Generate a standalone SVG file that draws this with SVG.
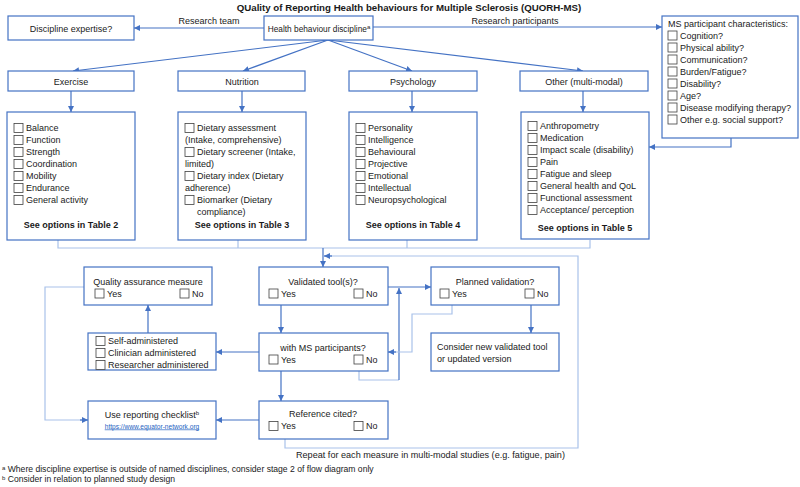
<svg xmlns="http://www.w3.org/2000/svg" xmlns:xlink="http://www.w3.org/1999/xlink" width="800" height="487" viewBox="0 0 800 487">
<defs>
<style>
text{font-family:"Liberation Sans",Arial,sans-serif;font-size:9px;fill:#1a1a1a}
.t{font-weight:bold;font-size:9.7px}
.b{font-weight:bold}
.c{text-anchor:middle}
.box{fill:#fff;stroke:#4472C4;stroke-width:1.2}
.cb{fill:#fff;stroke:#404040;stroke-width:0.8}
.dk{fill:none;stroke:#4472C4;stroke-width:1.2}
.lt{fill:none;stroke:#A9C2EA;stroke-width:1.2}
.fn{font-size:8.6px}
.lnk{font-size:6.6px;fill:#1F5FBF;text-decoration:underline}
.sup{font-size:6px}
</style>
<rect id="cb" width="9" height="9" class="cb"/>
<marker id="ar" viewBox="0 0 10 10" refX="10" refY="5" markerWidth="6" markerHeight="6" orient="auto" markerUnits="userSpaceOnUse">
<path d="M0,0 L10,5 L0,10 z" fill="#4472C4"/>
</marker>
</defs>
<rect width="800" height="487" fill="#fff"/>
<text class="t c" x="409" y="11">QUality of Reporting Health behaviours for Multiple Sclerosis (QUORH-MS)</text>

<g id="connectors">
<path class="dk" d="M264,28 H134" marker-end="url(#ar)"/>
<path class="dk" d="M373,27 H662" marker-end="url(#ar)"/>
<path class="dk" d="M328,40 L73,71" marker-end="url(#ar)"/>
<path class="dk" d="M328,40 L243,71" marker-end="url(#ar)"/>
<path class="dk" d="M328,40 L412,71" marker-end="url(#ar)"/>
<path class="dk" d="M328,40 L583,71" marker-end="url(#ar)"/>
<path class="dk" d="M71,91 V112" marker-end="url(#ar)"/>
<path class="dk" d="M242,91 V112" marker-end="url(#ar)"/>
<path class="dk" d="M412,91 V112" marker-end="url(#ar)"/>
<path class="dk" d="M583,91 V112" marker-end="url(#ar)"/>
<path class="dk" d="M731,138 V147 H649" marker-end="url(#ar)"/>
<path class="lt" d="M58,240 V248 H590 V240 M238,240 V248 M407,240 V248"/>
<path class="dk" d="M323,248 V267" marker-end="url(#ar)"/>
<path class="lt" d="M285,439 V448 H578 V256 H330"/>
<path class="dk" d="M332,256 H324" marker-end="url(#ar)"/>
<path class="dk" d="M388,287 H431" marker-end="url(#ar)"/>
<path class="lt" d="M359,371 V380 H399"/>
<path class="dk" d="M399,380 V288" marker-end="url(#ar)"/>
<path class="lt" d="M452,305 V314 H412 V352 H394"/>
<path class="dk" d="M396,352 H388" marker-end="url(#ar)"/>
<path class="dk" d="M531,305 V333" marker-end="url(#ar)"/>
<path class="dk" d="M281,305 V333" marker-end="url(#ar)"/>
<path class="dk" d="M259,352 H216" marker-end="url(#ar)"/>
<path class="dk" d="M148,333 V305" marker-end="url(#ar)"/>
<path class="lt" d="M84,287 H45 V420 H82"/>
<path class="dk" d="M80,420 H88" marker-end="url(#ar)"/>
<path class="dk" d="M281,371 V401" marker-end="url(#ar)"/>
<path class="dk" d="M259,420 H216" marker-end="url(#ar)"/>
</g>
<text x="209" y="24" class="c">Research team</text>
<text x="515" y="24" class="c">Research participants</text>

<g id="n-expertise"><rect class="box" x="8" y="16" width="126" height="24"/><text class="c" x="71" y="31.5">Discipline expertise?</text></g>
<g id="n-discipline"><rect class="box" x="264" y="16" width="109" height="24"/><text class="c" x="319" y="31.5" style="font-size:8.3px">Health behaviour discipline<tspan class="sup" dy="-3">a</tspan></text></g>

<g id="n-ms">
<rect class="box" x="662" y="16" width="136" height="122"/>
<text x="668" y="27">MS participant characteristics:</text>
<use href="#cb" x="668" y="31"/><text x="680" y="38.7">Cognition?</text>
<use href="#cb" x="668" y="43"/><text x="680" y="50.7">Physical ability?</text>
<use href="#cb" x="668" y="55"/><text x="680" y="62.7">Communication?</text>
<use href="#cb" x="668" y="67"/><text x="680" y="74.7">Burden/Fatigue?</text>
<use href="#cb" x="668" y="79"/><text x="680" y="86.7">Disability?</text>
<use href="#cb" x="668" y="91"/><text x="680" y="98.7">Age?</text>
<use href="#cb" x="668" y="103"/><text x="680" y="110.7">Disease modifying therapy?</text>
<use href="#cb" x="668" y="115"/><text x="680" y="122.7">Other e.g. social support?</text>
</g>

<g id="n-exercise"><rect class="box" x="8" y="71" width="126" height="20"/><text class="c" x="71" y="84.5">Exercise</text></g>
<g id="n-nutrition"><rect class="box" x="178" y="71" width="127" height="20"/><text class="c" x="242" y="84.5">Nutrition</text></g>
<g id="n-psychology"><rect class="box" x="349" y="71" width="128" height="20"/><text class="c" x="413" y="84.5">Psychology</text></g>
<g id="n-other"><rect class="box" x="520" y="71" width="128" height="20"/><text class="c" x="584" y="84.5">Other (multi-modal)</text></g>

<g id="d-exercise">
<rect class="box" x="7" y="112" width="128" height="128"/>
<use href="#cb" x="14" y="123.5"/><text x="26" y="131.2">Balance</text>
<use href="#cb" x="14" y="135.5"/><text x="26" y="143.2">Function</text>
<use href="#cb" x="14" y="147.5"/><text x="26" y="155.2">Strength</text>
<use href="#cb" x="14" y="159.5"/><text x="26" y="167.2">Coordination</text>
<use href="#cb" x="14" y="171.5"/><text x="26" y="179.2">Mobility</text>
<use href="#cb" x="14" y="183.5"/><text x="26" y="191.2">Endurance</text>
<use href="#cb" x="14" y="195.5"/><text x="26" y="203.2">General activity</text>
<text class="b c" x="71" y="227.5">See options in Table 2</text>
</g>
<g id="d-nutrition">
<rect class="box" x="178" y="112" width="128" height="128"/>
<use href="#cb" x="185" y="123.5"/><text x="197" y="131.2">Dietary assessment</text>
<text x="185" y="143.2">(Intake, comprehensive)</text>
<use href="#cb" x="185" y="147.5"/><text x="197" y="155.2">Dietary screener (Intake,</text>
<text x="185" y="167.2">limited)</text>
<use href="#cb" x="185" y="171.5"/><text x="197" y="179.2">Dietary index (Dietary</text>
<text x="185" y="191.2">adherence)</text>
<use href="#cb" x="185" y="195.5"/><text x="197" y="203.2">Biomarker (Dietary</text>
<text x="197" y="215.2">compliance)</text>
<text class="b c" x="242" y="227.5">See options in Table 3</text>
</g>
<g id="d-psychology">
<rect class="box" x="349" y="112" width="128" height="128"/>
<use href="#cb" x="356" y="123.5"/><text x="368" y="131.2">Personality</text>
<use href="#cb" x="356" y="135.5"/><text x="368" y="143.2">Intelligence</text>
<use href="#cb" x="356" y="147.5"/><text x="368" y="155.2">Behavioural</text>
<use href="#cb" x="356" y="159.5"/><text x="368" y="167.2">Projective</text>
<use href="#cb" x="356" y="171.5"/><text x="368" y="179.2">Emotional</text>
<use href="#cb" x="356" y="183.5"/><text x="368" y="191.2">Intellectual</text>
<use href="#cb" x="356" y="195.5"/><text x="368" y="203.2">Neuropsychological</text>
<text class="b c" x="413" y="227.5">See options in Table 4</text>
</g>
<g id="d-other">
<rect class="box" x="521" y="112" width="128" height="127"/>
<use href="#cb" x="528" y="121.5"/><text x="540" y="129.2">Anthropometry</text>
<use href="#cb" x="528" y="133.5"/><text x="540" y="141.2">Medication</text>
<use href="#cb" x="528" y="145.5"/><text x="540" y="153.2">Impact scale (disability)</text>
<use href="#cb" x="528" y="157.5"/><text x="540" y="165.2">Pain</text>
<use href="#cb" x="528" y="169.5"/><text x="540" y="177.2">Fatigue and sleep</text>
<use href="#cb" x="528" y="181.5"/><text x="540" y="189.2">General health and QoL</text>
<use href="#cb" x="528" y="193.5"/><text x="540" y="201.2">Functional assessment</text>
<use href="#cb" x="528" y="205.5"/><text x="540" y="213.2">Acceptance/ perception</text>
<text class="b c" x="585" y="230.5">See options in Table 5</text>
</g>

<g id="n-qa">
<rect class="box" x="84" y="267" width="128" height="38"/>
<text class="c" x="148" y="285">Quality assurance measure</text>
<use href="#cb" x="95" y="289"/><text x="107" y="296.5">Yes</text>
<use href="#cb" x="180" y="289"/><text x="192" y="296.5">No</text>
</g>
<g id="n-validated">
<rect class="box" x="259" y="267" width="129" height="38"/>
<text class="c" x="323" y="285">Validated tool(s)?</text>
<use href="#cb" x="269" y="289"/><text x="281" y="296.5">Yes</text>
<use href="#cb" x="354" y="289"/><text x="366" y="296.5">No</text>
</g>
<g id="n-planned">
<rect class="box" x="431" y="267" width="128" height="38"/>
<text class="c" x="495" y="285">Planned validation?</text>
<use href="#cb" x="440" y="289"/><text x="452" y="296.5">Yes</text>
<use href="#cb" x="525" y="289"/><text x="537" y="296.5">No</text>
</g>
<g id="n-consider">
<rect class="box" x="431" y="333" width="128" height="38"/>
<text x="437" y="350">Consider new validated tool</text>
<text x="437" y="362">or updated version</text>
</g>
<g id="n-withms">
<rect class="box" x="259" y="333" width="129" height="38"/>
<text class="c" x="323" y="351">with MS participants?</text>
<use href="#cb" x="269" y="355"/><text x="281" y="362.5">Yes</text>
<use href="#cb" x="354" y="355"/><text x="366" y="362.5">No</text>
</g>
<g id="n-admin">
<rect class="box" x="88" y="333" width="128" height="37"/>
<use href="#cb" x="96" y="336.5"/><text x="108" y="344.2">Self-administered</text>
<use href="#cb" x="96" y="348.5"/><text x="108" y="356.2">Clinician administered</text>
<use href="#cb" x="96" y="360.5"/><text x="108" y="368.2">Researcher administered</text>
</g>
<g id="n-reference">
<rect class="box" x="259" y="401" width="129" height="38"/>
<text class="c" x="323" y="417">Reference cited?</text>
<use href="#cb" x="269" y="421.5"/><text x="281" y="429">Yes</text>
<use href="#cb" x="354" y="421.5"/><text x="366" y="429">No</text>
</g>
<g id="n-checklist">
<rect class="box" x="88" y="401" width="128" height="38"/>
<text class="c" x="152" y="418">Use reporting checklist<tspan class="sup" dy="-3">b</tspan></text>
<text class="lnk c" x="152" y="428.5">https://www.equator-network.org</text>
</g>

<text x="296" y="458" style="font-size:9.1px">Repeat for each measure in multi-modal studies (e.g. fatigue, pain)</text>
<text class="fn" x="2" y="472"><tspan class="sup" dy="-2.5">a</tspan><tspan dy="2.5"> Where discipline expertise is outside of named disciplines, consider stage 2 of flow diagram only</tspan></text>
<text class="fn" x="2" y="482"><tspan class="sup" dy="-2.5">b</tspan><tspan dy="2.5"> Consider in relation to planned study design</tspan></text>
</svg>
